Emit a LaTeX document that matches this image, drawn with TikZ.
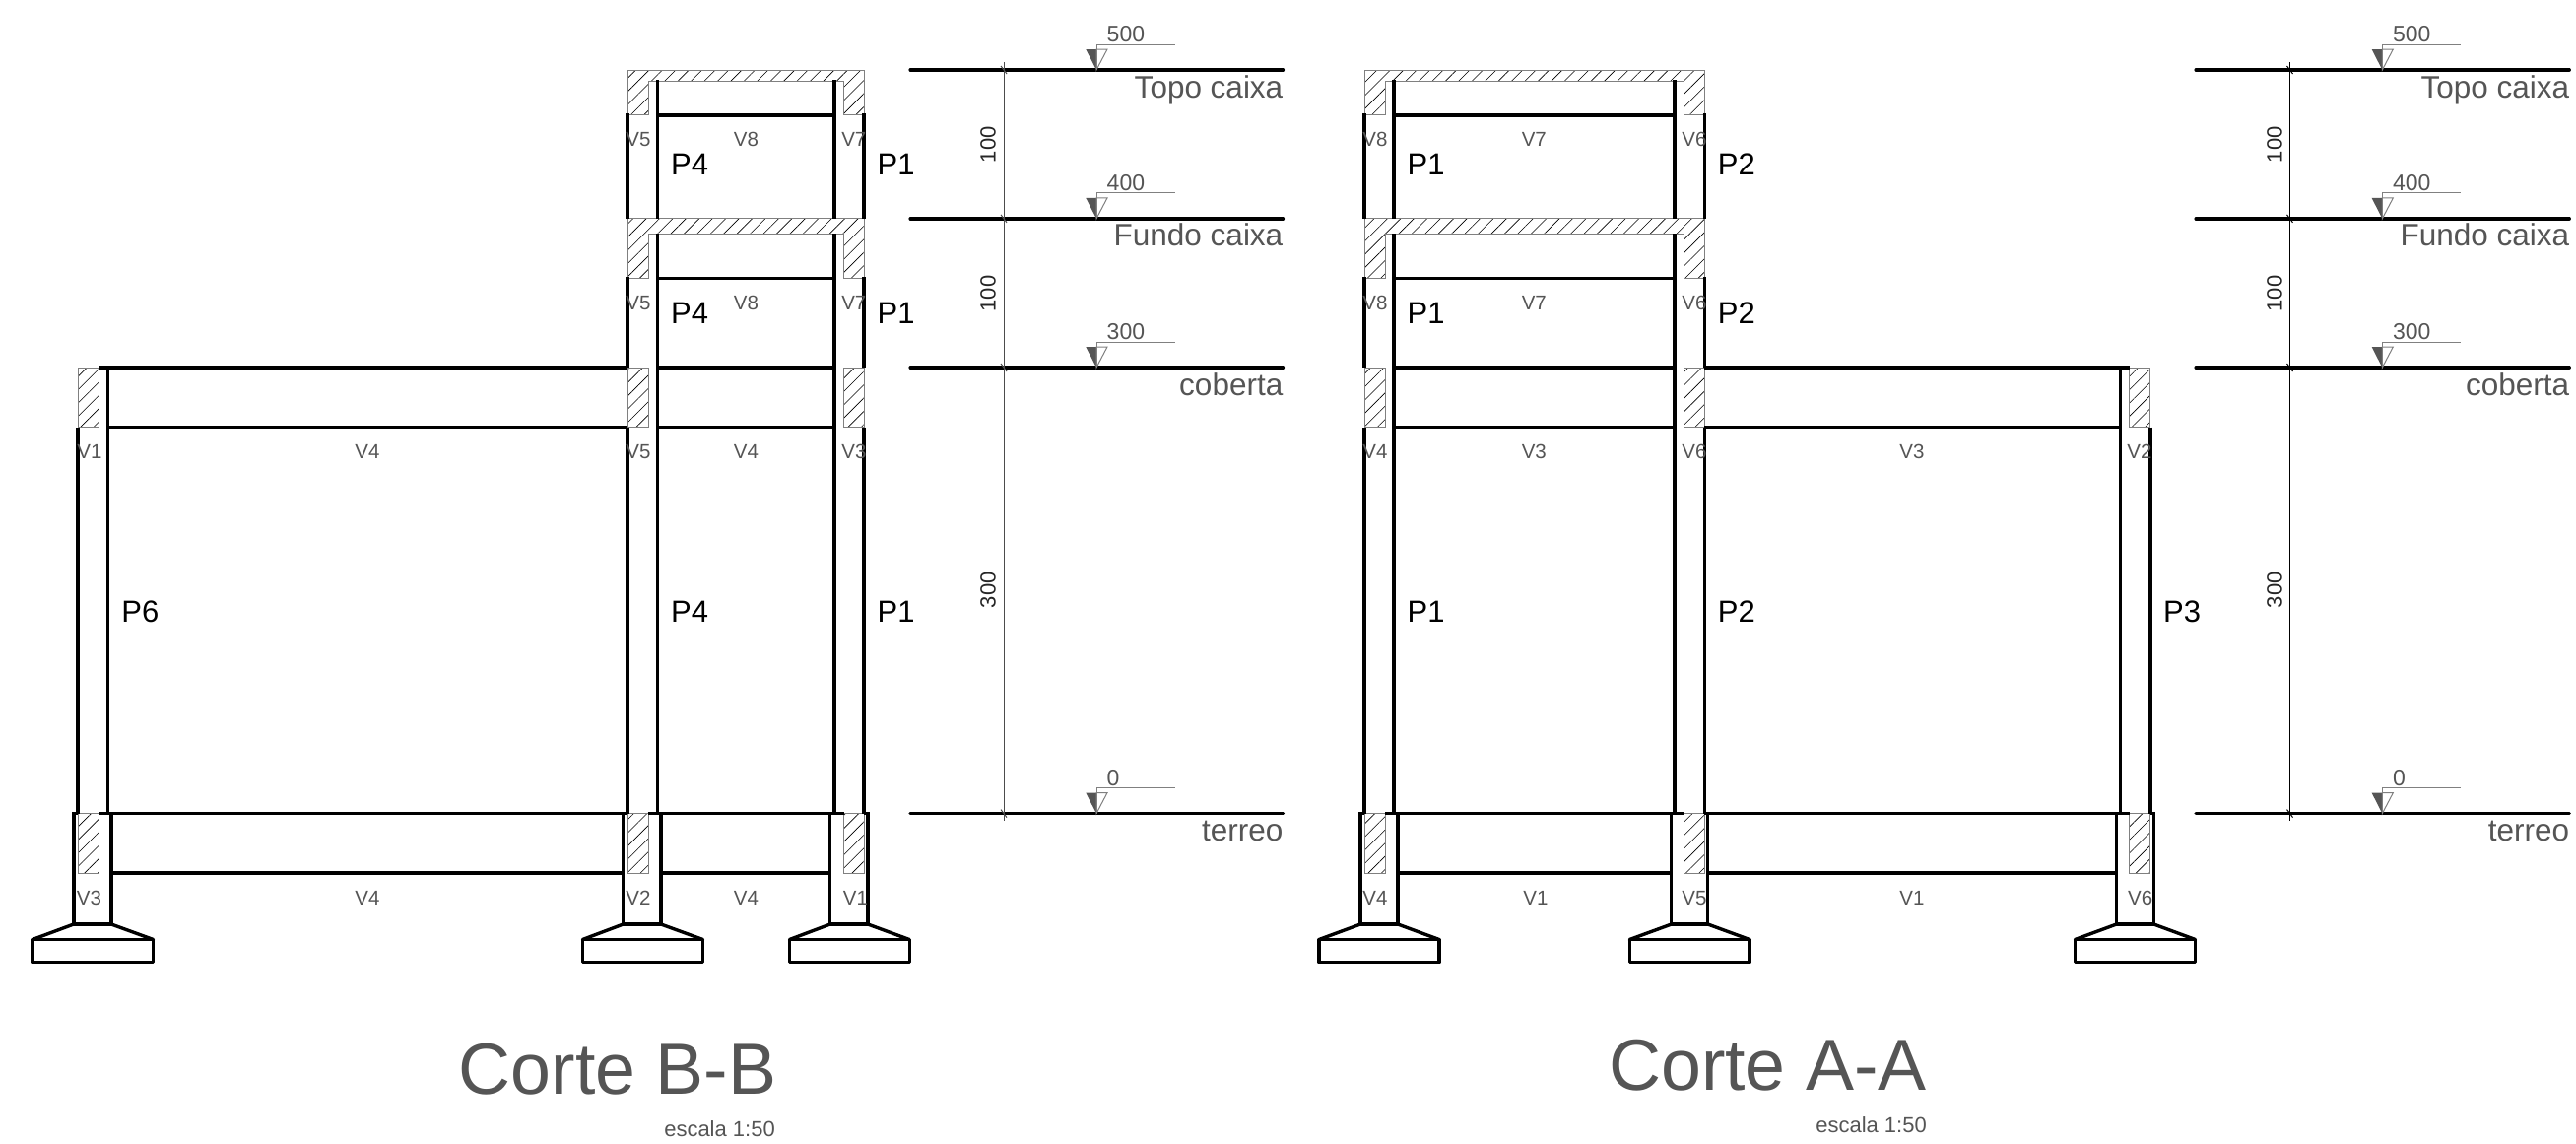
\documentclass[tikz,border=0pt]{standalone}
\usepackage{fontspec}
\setmainfont{Liberation Sans}
\usetikzlibrary{patterns.meta}
\definecolor{txt}{HTML}{555555}
\tikzset{
 wall/.style={line width=3.4pt,black,line cap=butt},
 foot/.style={line width=3.4pt,black,line join=round,line cap=round},
 hatchbox/.style={draw=black!50,line width=.9pt,pattern={Lines[angle=45,distance=9.5pt,line width=.6pt]},pattern color=black},
 lev/.style={line width=3.2pt,black,line cap=round},
 dimline/.style={line width=1pt,black!70},
 flag/.style={line width=1pt,black!50},
 vlab/.style={anchor=base,inner sep=0pt,text=txt,font=\fontsize{20.5}{20.5}\selectfont},
 plab/.style={anchor=base west,inner sep=0pt,text=black,font=\fontsize{31}{31}\selectfont},
 levname/.style={anchor=base east,inner sep=0pt,text=txt,font=\fontsize{31.5}{31.5}\selectfont},
 levnum/.style={anchor=base west,inner sep=0pt,text=txt,font=\fontsize{23}{23}\selectfont},
 dimnum/.style={anchor=base,rotate=90,inner sep=0pt,text=black!85,font=\fontsize{22}{22}\selectfont},
 title/.style={anchor=base east,inner sep=0pt,text=txt,font=\fontsize{73.5}{73.5}\selectfont},
 scalelab/.style={anchor=base east,inner sep=0pt,text=txt,font=\fontsize{22}{22}\selectfont},
}
% level mark: #1 name, #2 y, #3 x left, #4 x tip, #5 x right, #6 number, #7 text
\newcommand\levmark[7]{%
 \coordinate (#1l) at (#3,#2);
 \coordinate (#1r) at (#5,#2);
 \coordinate (#1t) at (#4,#2);
 \draw[lev] (#1l) -- (#1r);
 \fill[txt] (#1t) -- ++(0,-21) -- ++(-10.7,0) -- cycle;
 \draw[flag] (#1t) -- ++(0,-21) -- ++(11,0) -- cycle;
 \draw[flag] (#1t) -- ++(0,-26) -- ++(79.5,0);
 \node[levnum] (#1n) at ([xshift=10.5pt,yshift=28.4pt]#1t) {#6};
 \node[levname] (#1x) at ([yshift=-28pt]#1r) {#7};
}
\newcommand\footing[4]{% #1 xa, #2 xb outer col, #3 xc, #4 xd footing
 \draw[foot] (#1,938) -- (#2,938);
 \draw[foot] (#1,938) -- (#3,953.5);
 \draw[foot] (#2,938) -- (#4,953.5);
 \draw[foot] (#3,953.5) rectangle (#4,976.7);
}
\begin{document}
\begin{tikzpicture}[x=1pt,y=-1pt]
\useasboundingbox (0,0) rectangle (2615,1160);
\fill[white] (0,0) rectangle (2615,1160);

% ---------- hatched sections, Corte B-B
\foreach \t/\m/\b in {71/82/116.9,221.9/237.3/282.5}{
 \path[hatchbox] (637,\t) -- (877,\t) -- (877,\b) -- (856.3,\b) -- (856.3,\m) -- (658.3,\m) -- (658.3,\b) -- (637,\b) -- cycle;
}
\foreach \a/\c/\t/\b in {79/100.3/373/433.5,637/658.3/373/433.5,856.3/877/373/433.5,
  79/100.3/825.6/886,637/658.3/825.6/886,856.3/877/825.6/886,
  1385/1406/373/433.5,1709.3/1730.3/373/433.5,2161.6/2182.8/373/433.5,
  1385/1406/825.6/886,1709.3/1730.3/825.6/886,2161.6/2182.8/825.6/886}{
 \path[hatchbox] (\a,\t) rectangle (\c,\b);
}
% ---------- hatched sections, Corte A-A
\foreach \t/\m/\b in {71/82/116.9,221.9/237.3/282.5}{
 \path[hatchbox] (1385,\t) -- (1730.3,\t) -- (1730.3,\b) -- (1709.3,\b) -- (1709.3,\m) -- (1406,\m) -- (1406,\b) -- (1385,\b) -- cycle;
}

% ---------- walls, vertical
\foreach \x/\a/\b in {
 637/115.2/221.9, 667.5/81/221.9, 847/81/221.9, 877/115.2/221.9,
 637/280.8/373, 667.5/237/825.6, 847/237/825.6, 877/280.8/373,
 637/433.5/825.6, 877/433.5/825.6, 79/433.5/825.6, 109.7/371.3/825.6,
 74.8/825.6/938, 113/825.6/938, 632.6/825.6/938, 671/825.6/938, 842.7/825.6/938, 881/825.6/938,
 1385/115.2/221.9, 1415/81/221.9, 1700/81/221.9, 1730.3/115.2/221.9,
 1385/280.8/373, 1415/237/825.6, 1700/237/825.6, 1730.3/280.8/373,
 1385/433.5/825.6, 1730.3/433.5/825.6, 2152.7/371.3/825.6, 2182.8/433.5/825.6,
 1381/825.6/938, 1419/825.6/938, 1696.7/825.6/938, 1733.7/825.6/938, 2148.5/825.6/938, 2186.4/825.6/938}{
 \draw[wall] (\x,\a) -- (\x,\b);
}
% ---------- walls, horizontal
\foreach \y/\a/\b in {
 116.9/667.5/847, 282.5/667.5/847, 373/100/637, 373/667.5/847,
 433.5/109.7/637, 433.5/667.5/847,
 825.6/73/79, 825.6/100/637, 825.6/657.6/857, 825.6/877/882.6,
 886/113/632.6, 886/671/842.7,
 116.9/1415/1700, 282.5/1415/1700, 373/1415/1700, 373/1730.3/2161.6,
 433.5/1415/1700, 433.5/1730.3/2152.7,
 825.6/1379.4/1385, 825.6/1406/1709.3, 825.6/1730.3/2161.6, 825.6/2182.8/2188,
 886/1419/1696.7, 886/1733.7/2148.5}{
 \draw[wall] (\a,\y) -- (\b,\y);
}
% ---------- footings
\footing{74.8}{113}{33}{155.6}
\footing{632.6}{671}{591.4}{713.6}
\footing{842.7}{881}{801.5}{923.2}
\footing{1381}{1419}{1339}{1461}
\footing{1696.7}{1733.7}{1654.3}{1776}
\footing{2148.5}{2186.4}{2106.4}{2228.5}

% ---------- levels, Corte B-B
\levmark{ba}{71}{924}{1113}{1302.5}{500}{Topo caixa}
\levmark{bb}{221.9}{924}{1113}{1302.5}{400}{Fundo caixa}
\levmark{bc}{373}{924}{1113}{1302.5}{300}{coberta}
\levmark{bd}{825.6}{924}{1113}{1302.5}{0}{terreo}
% ---------- levels, Corte A-A
\levmark{aa}{71}{2229}{2418.3}{2608.3}{500}{Topo caixa}
\levmark{ab}{221.9}{2229}{2418.3}{2608.3}{400}{Fundo caixa}
\levmark{ac}{373}{2229}{2418.3}{2608.3}{300}{coberta}
\levmark{ad}{825.6}{2229}{2418.3}{2608.3}{0}{terreo}

% ---------- dimension lines
\coordinate (bdt) at (1019,63.3); \coordinate (bdb) at (1019,833);
\coordinate (adt) at (2324.5,63.3); \coordinate (adb) at (2324.5,833);
\draw[dimline] (bdt) -- (bdb);
\draw[dimline,black] (adt) -- (adb);
\foreach \y in {71,221.9,373,825.6}{
 \draw[dimline] (1016,\y-4) -- (1022,\y+4);
 \draw[dimline,black] (2321.5,\y-4) -- (2327.5,\y+4);
}
\foreach \n/\y/\t in {1/146.7/100,2/298/100,3/598.8/300}{
 \node[dimnum] (bdim\n) at (1010.5,\y) {\t};
 \node[dimnum] (adim\n) at (2316.5,\y) {\t};
}

% ---------- V labels
\foreach [count=\i] \x/\y/\t in {
 648/148.3/V5, 757.5/148.3/V8, 866.8/148.3/V7,
 648/314/V5, 757.5/314/V8, 866.8/314/V7,
 91/465/V1, 373/465/V4, 648/465/V5, 757.5/465/V4, 867/465/V3,
 90.4/918.3/V3, 373/918.3/V4, 648/918.3/V2, 757.5/918.3/V4, 868.4/918.3/V1,
 1396/148.3/V8, 1557.3/148.3/V7, 1720/148.3/V6,
 1396/314/V8, 1557.3/314/V7, 1720/314/V6,
 1396/465/V4, 1557.3/465/V3, 1720/465/V6, 1941/465/V3, 2172/465/V2,
 1396/918.3/V4, 1559/918.3/V1, 1720/918.3/V5, 1941/918.3/V1, 2172.6/918.3/V6}{
 \node[vlab] (v\i) at (\x,\y) {\t};
}
% ---------- P labels
\foreach [count=\i] \x/\y/\t in {
 681/177.7/P4, 890.5/177.7/P1, 681/328/P4, 890.5/328/P1,
 123.2/631.3/P6, 681/631.3/P4, 890.5/631.3/P1,
 1428.5/177.7/P1, 1743.7/177.7/P2, 1428.5/328/P1, 1743.7/328/P2,
 1428.5/631.3/P1, 1743.7/631.3/P2, 2196/631.3/P3}{
 \node[plab] (p\i) at (\x,\y) {\t};
}
% ---------- titles
\node[title] (tb) at (788.5,1110) {Corte B-B};
\node[title] (ta) at (1956,1106) {Corte A-A};
\node[scalelab] (sb) at (787,1153) {escala 1:50};
\node[scalelab] (sa) at (1956,1149) {escala 1:50};
\end{tikzpicture}
\end{document}
